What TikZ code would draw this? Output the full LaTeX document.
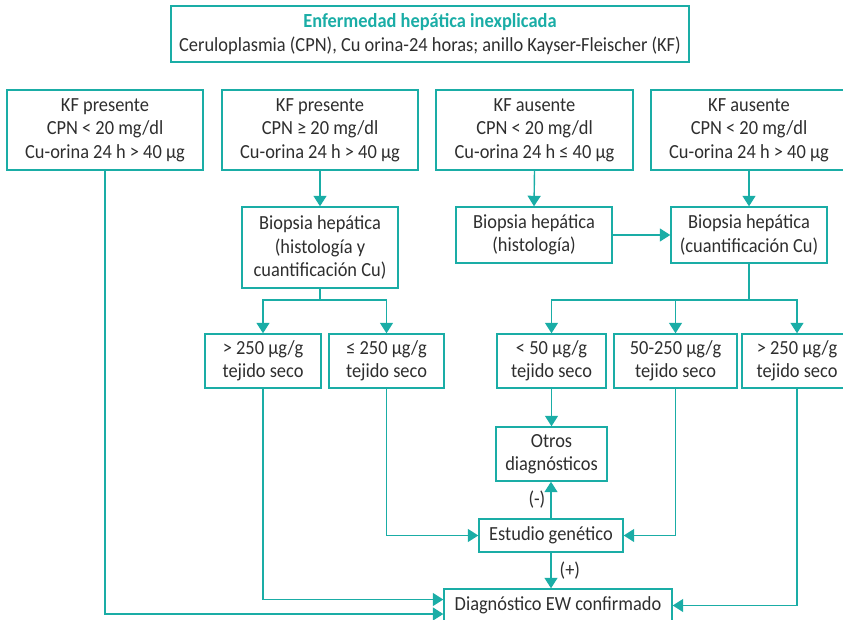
\documentclass[tikz,border=0pt]{standalone}
\usepackage{fontspec}
\setmainfont{Carlito}[FakeStretch=0.92]
\usetikzlibrary{arrows.meta}
\definecolor{tealc}{HTML}{1AADA6}
\definecolor{txt}{HTML}{2E2E2E}
\begin{document}
\begin{tikzpicture}[x=1pt,y=-1pt,
  box/.style={draw=tealc, line width=1.4pt, text=txt, align=center, inner sep=0pt,
    font=\fontsize{20}{23.5}\selectfont},
  sz/.style 2 args={minimum width=#1, minimum height=#2},
  ln/.style={draw=tealc, line width=1.4pt},
  arr/.style={ln, -{Triangle[width=13pt,length=10.5pt]}},
  lbl/.style={text=txt, font=\fontsize{20}{23.5}\selectfont, inner sep=0pt}]
\clip (0,0) rectangle (843,620);
\useasboundingbox (0,0) rectangle (843,620);
% title
\node[box, sz={518}{56}] (title) at (430,34)
  {{\color{tealc}\bfseries Enfermedad hepática inexplicada}\\Ceruloplasmia (CPN), Cu orina-24 horas; anillo Kayser-Fleischer (KF)};
% row 1
\node[box, sz={196}{80}] (ra) at (105,130) {KF presente\\CPN < 20 mg/dl\\Cu-orina 24 h > 40 µg};
\node[box, sz={196}{80}] (rb) at (320,130) {KF presente\\CPN ≥ 20 mg/dl\\Cu-orina 24 h > 40 µg};
\node[box, sz={197}{80}] (rc) at (534.5,130) {KF ausente\\CPN < 20 mg/dl\\Cu-orina 24 h ≤ 40 µg};
\node[box, sz={196}{80}] (rd) at (749,130) {KF ausente\\CPN < 20 mg/dl\\Cu-orina 24 h > 40 µg};
% biopsies
\node[box, sz={156}{81}] (ba) at (320,247.5) {Biopsia hepática\\(histología y\\cuantificación Cu)};
\node[box, sz={156}{56}] (bb) at (534,235) {Biopsia hepática\\(histología)};
\node[box, sz={156}{56}] (bc) at (749,235) {Biopsia hepática\\(cuantificación Cu)};
% results
\node[box, sz={116}{54}] (ta) at (263,361) {> 250 µg/g\\tejido seco};
\node[box, sz={115}{54}] (tb) at (386.5,361) {≤ 250 µg/g\\tejido seco};
\node[box, sz={109}{54}] (tc) at (551.5,361) {< 50 µg/g\\tejido seco};
\node[box, sz={123}{54}] (td) at (675.5,361) {50-250 µg/g\\tejido seco};
\node[box, sz={110}{54}] (te) at (797,361) {> 250 µg/g\\tejido seco};
% lower
\node[box, sz={111}{54}] (otros) at (551.5,454) {Otros\\diagnósticos};
\node[box, sz={144}{33}] (est) at (551,535.5) {Estudio genético};
\node[box, sz={228}{33}] (diag) at (558,605.5) {Diagnóstico EW confirmado};
% connectors
\draw[arr] (rb.south) -- (ba.north);
\draw[arr] (rc.south) -- (bb.north);
\draw[arr] (rd.south) -- (bc.north);
\draw[arr] (bb.east) -- (bc.west);
\coordinate (sa) at (320,300);
\coordinate (sc) at (749,300);
\draw[ln] (ba.south) -- (sa);
\draw[arr] (sa) -| (ta.north);
\draw[arr] (sa) -| (tb.north);
\draw[ln] (bc.south) -- (sc);
\draw[arr] (sc) -| (tc.north);
\draw[arr] (sc) -| (td.north);
\draw[arr] (sc) -| (te.north);
\draw[arr] (tc.south) -- (otros.north);
\draw[arr] (est.north) -- node[lbl, left=5pt] {(-)} (est.north |- otros.south);
\draw[arr] (est.south) -- node[lbl, right=8pt] {(+)} (est.south |- diag.north);
\draw[arr] (tb.south) |- (est.west);
\draw[arr] (td.south) |- (est.east);
\draw[arr] (ta.south) |- ([yshift=6pt]diag.west);
\draw[arr] (ra.south) |- ([yshift=-8.5pt]diag.west);
\draw[arr] (te.south) |- (diag.east);
\end{tikzpicture}
\end{document}
